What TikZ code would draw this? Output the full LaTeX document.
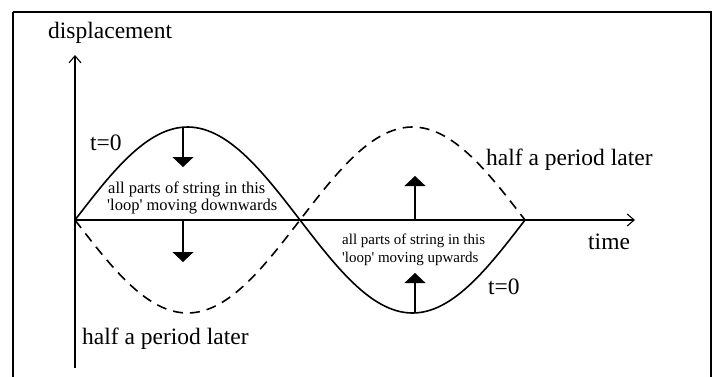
\documentclass[tikz,border=0pt]{standalone}
\usepackage{fontspec}
\setmainfont{Liberation Serif}
\usetikzlibrary{arrows.meta}
\begin{document}
\begin{tikzpicture}[x=1pt,y=-1pt,
  big/.style={font=\fontsize{23.5}{27}\selectfont, inner sep=0pt, anchor=base west},
  smallA/.style={font=\fontsize{16.5}{18}\selectfont, inner sep=0pt, anchor=base west},
  smallB/.style={font=\fontsize{15}{18}\selectfont, inner sep=0pt, anchor=base west},
  axis/.style={line width=1.1pt, -{Straight Barb[length=7pt,width=12pt,line width=1.1pt]}},
  wave/.style={line width=1.6pt},
  dwave/.style={line width=1.6pt, dash pattern=on 10pt off 7pt},
  motion/.style={line width=1.1pt, -{Triangle[length=10pt,width=21pt]}}]
\clip (0,0) rectangle (713,376);
\useasboundingbox (0,0) rectangle (713,376);
% frame
\draw[line width=2pt] (12.5,12) -- (711,12) -- (711,390);
\draw[line width=2pt] (12.5,12) -- (12.5,390);
% axes
\coordinate (O) at (75,220);
\coordinate (ytop) at (75,55);
\coordinate (ybot) at (75,368);
\coordinate (xend) at (635,220);
\draw[axis] (ybot) -- (ytop);
\draw[axis] (O) -- (xend);
% waves
\draw[wave] plot[domain=75:525, samples=120, smooth] (\x, {220-93*sin(0.8*(\x-75))});
\draw[dwave] plot[domain=75:525, samples=120, smooth] (\x, {220+93*sin(0.8*(\x-75))});
% motion arrows
\coordinate (peakA) at (183,127);
\coordinate (tipA) at (183,167);
\coordinate (axA) at (183,220);
\coordinate (tipB) at (183,262);
\coordinate (axC) at (415,220);
\coordinate (tipC) at (415,176);
\coordinate (troughD) at (415,313);
\coordinate (tipD) at (415,273);
\draw[motion] (peakA) -- (tipA);
\draw[motion] (axA) -- (tipB);
\draw[motion] (axC) -- (tipC);
\draw[motion] (troughD) -- (tipD);
% labels
\node[big] (disp) at (48,38) {displacement};
\node[big] (t0a) at (90,150) {t=0};
\node[big] (halfA) at (486,165) {half a period later};
\node[big] (halfB) at (82,344) {half a period later};
\node[big] (time) at (588,249) {time};
\node[big] (t0b) at (488,294) {t=0};
\node[smallA] (la1) at (108,193) {all parts of string in this};
\node[smallA] (la2) at (107,210) {\textquotesingle loop\textquotesingle\ moving downwards};
\node[smallB] (lb1) at (342,244) {all parts of string in this};
\node[smallB] (lb2) at (342,262) {\textquotesingle loop\textquotesingle\ moving upwards};
\end{tikzpicture}
\end{document}
